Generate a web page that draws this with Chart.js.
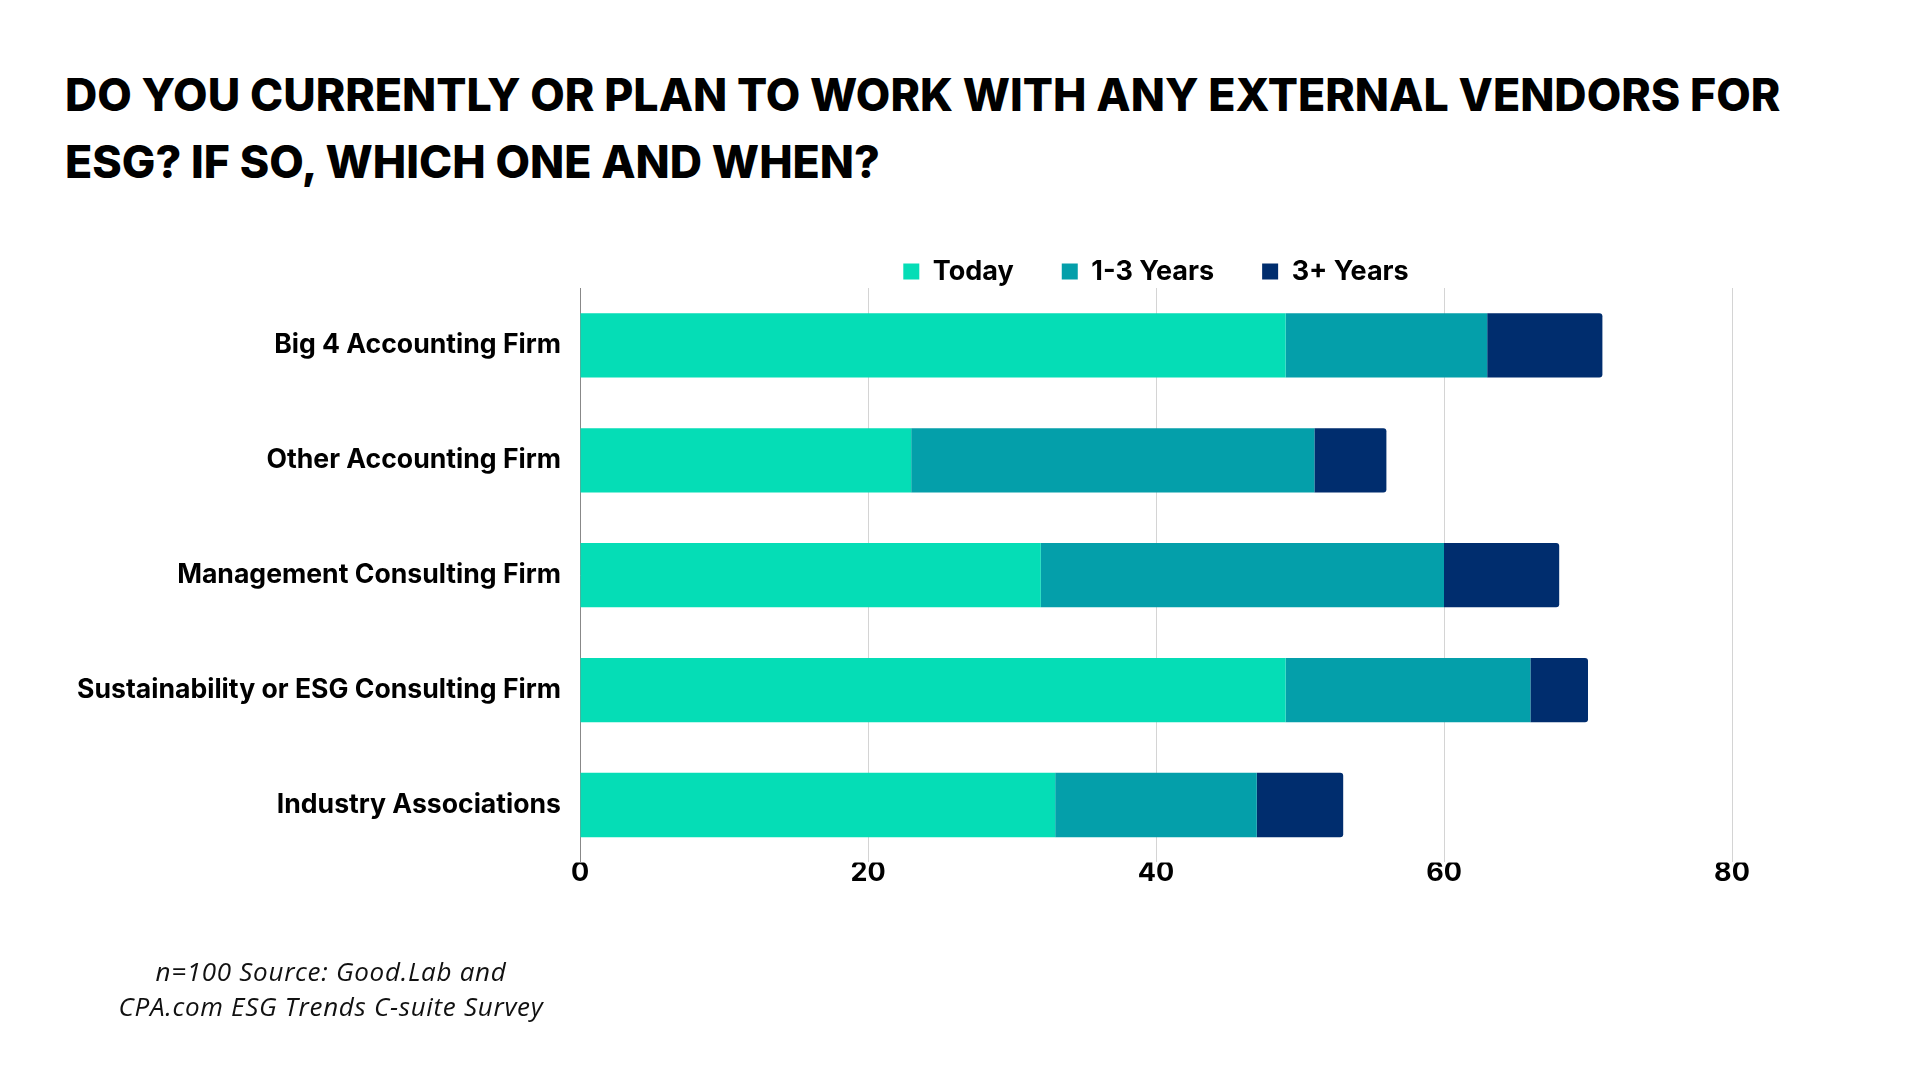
<!DOCTYPE html>
<html>
<head>
<meta charset="utf-8">
<script src="https://cdn.jsdelivr.net/npm/chart.js@4.4.0/dist/chart.umd.min.js"></script>
<style>
  html, body { margin: 0; padding: 0; background: #fff; }
  #wrap { position: relative; width: 1920px; height: 1080px; overflow: hidden; }
  #title {
    position: absolute; left: 65px; top: 62px;
    font-family: Inter, sans-serif; font-weight: 800; font-size: 44.7px;
    line-height: 67px; color: #000; white-space: nowrap;
  }
  #note {
    position: absolute; left: 66px; width: 530px; top: 954px;
    font-family: "Open Sans", sans-serif; font-style: italic; font-size: 26px;
    letter-spacing: 0.7px; line-height: 35px; text-align: center; color: #111;
  }
  canvas { position: absolute; left: 0; top: 0; }
</style>
</head>
<body>
<div id="wrap">
  <div id="title">DO YOU CURRENTLY OR PLAN TO WORK WITH ANY EXTERNAL VENDORS FOR<br>ESG? IF SO, WHICH ONE AND WHEN?</div>
  <canvas id="myChart" width="1920" height="1080"></canvas>
  <div id="note">n=100 Source: Good.Lab and<br>CPA.com ESG Trends C-suite Survey</div>
</div>
<script>
var categories = ['Big 4 Accounting Firm', 'Other Accounting Firm', 'Management Consulting Firm', 'Sustainability or ESG Consulting Firm', 'Industry Associations'];
var today = [49, 23, 32, 49, 33];
var oneToThree = [14, 28, 28, 17, 14];
var threePlus = [8, 5, 8, 4, 6];
var xTicks = [0, 20, 40, 60, 80];

const ctx = document.getElementById('myChart').getContext('2d');
const myChart = new Chart(ctx, {
    type: 'bar',
    data: {
        labels: categories,
        datasets: [
            { label: 'Today', data: today, backgroundColor: '#05DDB6' },
            { label: '1-3 Years', data: oneToThree, backgroundColor: '#049FAA' },
            { label: '3+ Years', data: threePlus, backgroundColor: '#002D6E', borderRadius: 3 }
        ]
    },
    options: {
        responsive: false,
        animation: false,
        indexAxis: 'y',
        datasets: { bar: { categoryPercentage: 1, barPercentage: 0.56 } },
        layout: { padding: { top: 210, right: 188, bottom: 196, left: 0 } },
        plugins: {
            legend: {
                position: 'top',
                fullSize: false,
                maxHeight: 78,
                labels: {
                    boxWidth: 16, boxHeight: 16, padding: 48,
                    color: '#000',
                    font: { family: 'Inter', weight: '700', size: 27 }
                }
            },
            tooltip: { enabled: false }
        },
        scales: {
            x: {
                stacked: true,
                min: 0, max: 80,
                afterBuildTicks: function(scale) {
                    scale.ticks = xTicks.map(function(v) { return { value: v }; });
                },
                grid: { color: '#d4d4d4', drawTicks: false },
                border: { display: false },
                ticks: { padding: 0, color: '#000', font: { family: 'Inter', weight: '700', size: 27, lineHeight: 0.8 } }
            },
            y: {
                stacked: true,
                afterFit: function(scale) { scale.width = 580; },
                grid: { display: false, drawTicks: false },
                border: { color: '#888', width: 1 },
                ticks: { padding: 19, color: '#000', font: { family: 'Inter', weight: '700', size: 26.6 } }
            }
        }
    }
});
</script>
</body>
</html>
